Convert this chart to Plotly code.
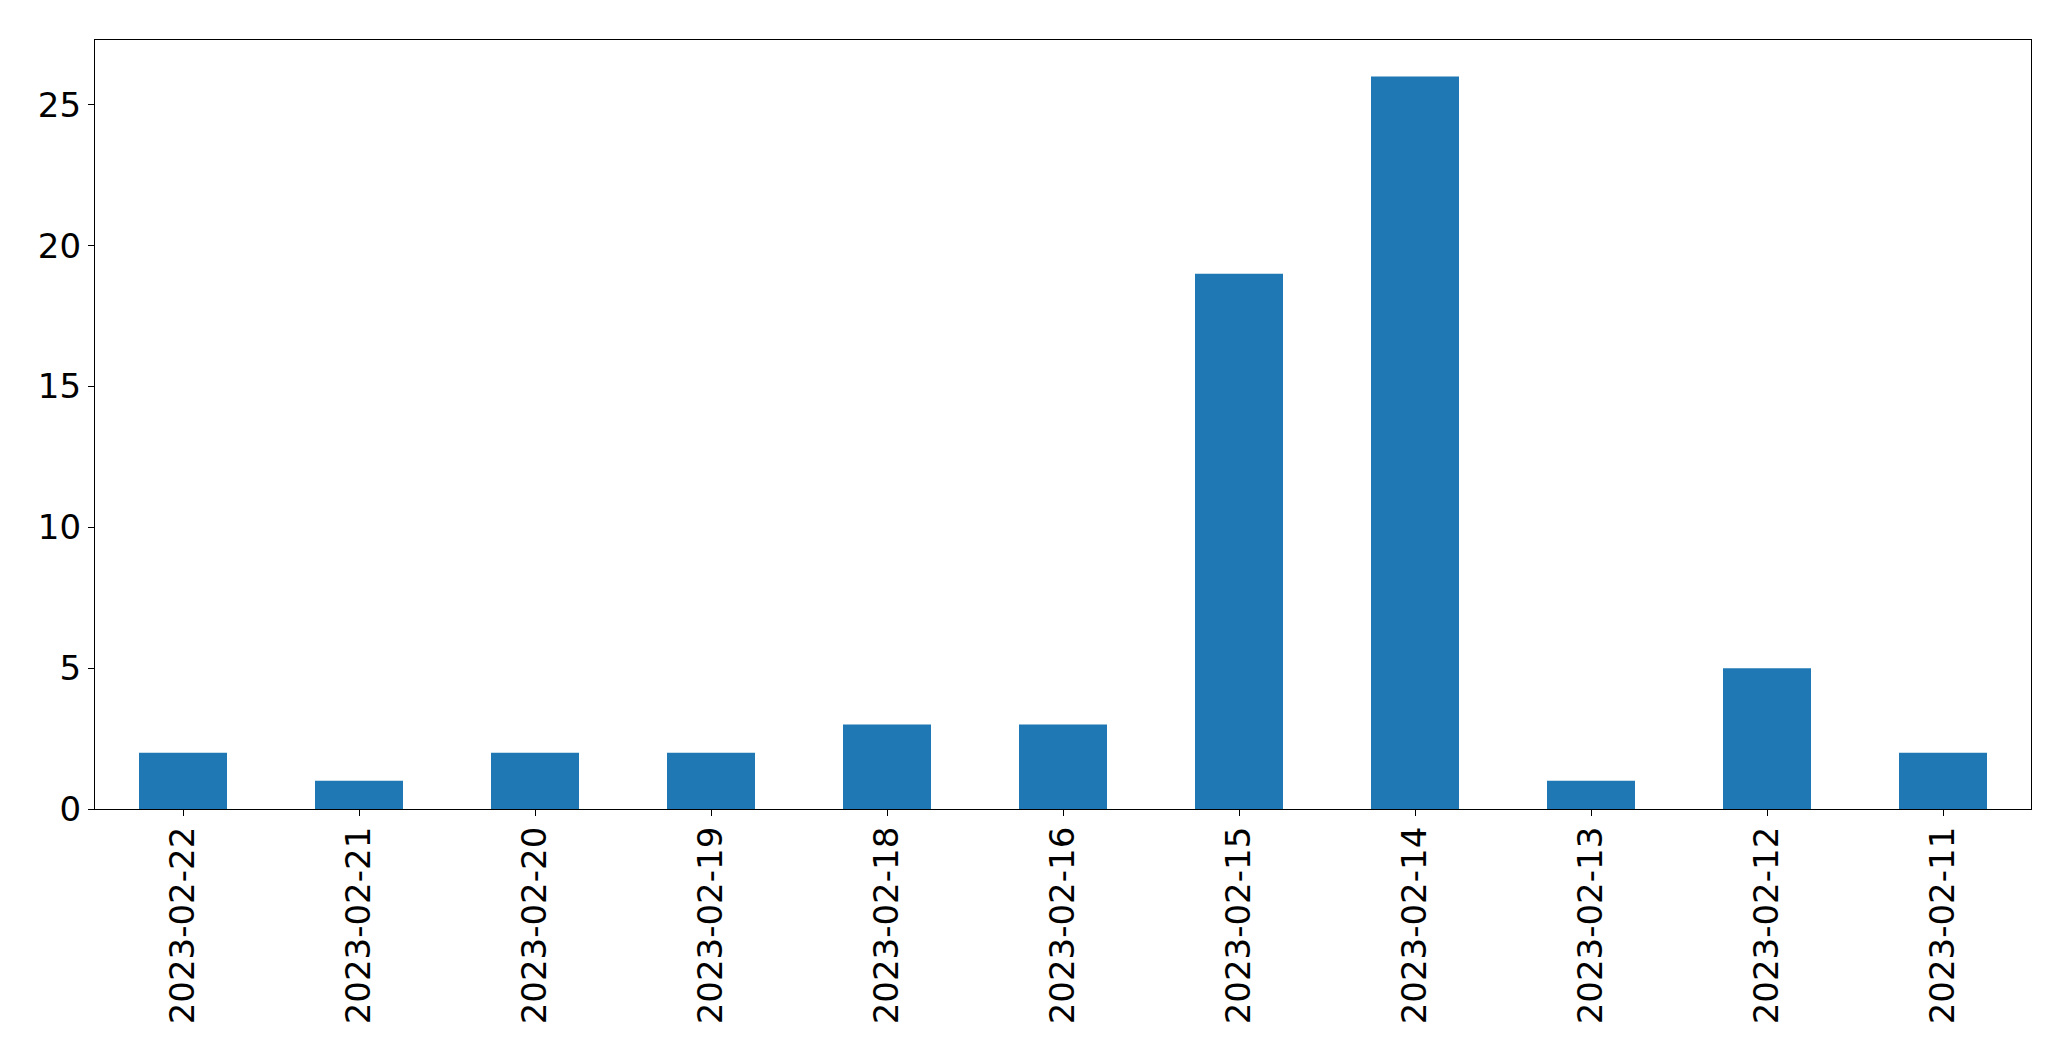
import plotly.graph_objects as go

dates = ["2023-02-22", "2023-02-21", "2023-02-20", "2023-02-19", "2023-02-18",
         "2023-02-16", "2023-02-15", "2023-02-14", "2023-02-13", "2023-02-12", "2023-02-11"]
counts = [2, 1, 2, 2, 3, 3, 19, 26, 1, 5, 2]
y_ticks = [0, 5, 10, 15, 20, 25]

fig = go.Figure(go.Bar(x=dates, y=counts, marker_color="#1f77b4", marker_line_width=0, width=0.5))

font = dict(family="DejaVu Sans", size=34, color="black")
fig.update_layout(
    width=2071, height=1061,
    margin=dict(l=94.5, r=39.5, t=39.5, b=252, pad=0),
    plot_bgcolor="white", paper_bgcolor="white",
    showlegend=False, bargap=0.5,
    font=font,
)
fig.update_xaxes(
    type="category", range=[-0.5, len(dates) - 0.5],
    showline=True, linecolor="black", linewidth=1.3, mirror=True,
    ticks="outside", ticklen=6, tickwidth=1.3, tickcolor="black",
    tickangle=-90, tickfont=font, showgrid=False, zeroline=False,
    ticklabelstandoff=-3,
)
fig.update_yaxes(
    range=[0, 27.3], tickvals=y_ticks,
    showline=True, linecolor="black", linewidth=1.3, mirror=True,
    ticks="outside", ticklen=6, tickwidth=1.3, tickcolor="black",
    tickfont=font, showgrid=False, zeroline=False,
)
fig.write_html("out.html", config={"displayModeBar": False},
               post_script="document.body.style.margin='0';document.body.style.overflow='hidden';")
